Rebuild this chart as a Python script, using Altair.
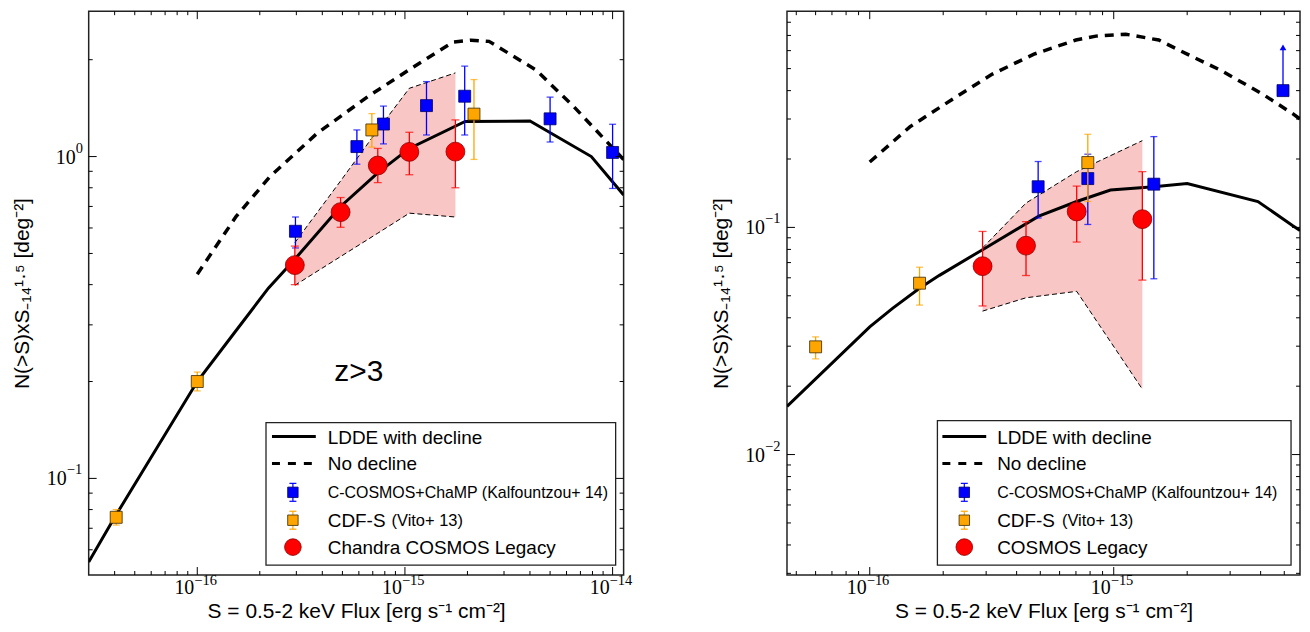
import altair as alt
import pandas as pd

# ------------------------------------------------------------------
# LEFT PANEL  (z>3, Chandra COSMOS Legacy)
# ------------------------------------------------------------------
L_ldde_S = [3.0e-17, 4.0e-17, 1.0e-16, 1.5e-16, 2.2e-16, 2.95e-16, 4.9e-16, 7.4e-16,
            1.05e-15, 1.95e-15, 4.0e-15, 7.9e-15, 1.13e-14]
L_ldde_N = [0.055, 0.0757, 0.200, 0.282, 0.39, 0.48, 0.70, 0.89,
            1.06, 1.285, 1.29, 1.00, 0.76]

L_nodecl_S = [1.0e-16, 1.54e-16, 2.24e-16, 3.76e-16, 6.61e-16, 1.1e-15, 1.71e-15,
              2.08e-15, 2.54e-15, 4.27e-15, 6.5e-15, 1.13e-14]
L_nodecl_N = [0.431, 0.652, 0.867, 1.178, 1.534, 1.899, 2.27,
              2.30, 2.28, 1.86, 1.43, 0.979]

L_red_S = [2.95e-16, 4.9e-16, 7.4e-16, 1.05e-15, 1.75e-15]
L_red_N = [0.46, 0.672, 0.938, 1.034, 1.036]
L_red_lo = [0.40, 0.603, 0.83, 0.878, 0.80]
L_red_hi = [0.527, 0.746, 1.06, 1.19, 1.30]

L_blue_S = [2.97e-16, 5.87e-16, 7.88e-16, 1.27e-15, 1.94e-15, 5.0e-15, 1.0e-14]
L_blue_N = [0.586, 1.074, 1.262, 1.44, 1.54, 1.31, 1.03]
L_blue_lo = [0.52, 0.947, 1.095, 1.167, 1.167, 1.11, 0.796]
L_blue_hi = [0.649, 1.21, 1.435, 1.71, 1.91, 1.53, 1.26]

L_orange_S = [4.07e-17, 1.0e-16, 6.93e-16, 2.15e-15]
L_orange_N = [0.0757, 0.200, 1.21, 1.355]
L_orange_lo = [0.0716, 0.187, 1.07, 0.98]
L_orange_hi = [0.080, 0.214, 1.36, 1.735]

L_band_S = [2.95e-16, 4.9e-16, 7.4e-16, 1.05e-15, 1.75e-15]
L_band_lo = [0.398, 0.489, 0.578, 0.667, 0.649]
L_band_hi = [0.54, 0.84, 1.21, 1.63, 1.82]

L_note_S = [6.0e-16]
L_note_N = [0.214]
L_note_text = ["z>3"]

# ------------------------------------------------------------------
# RIGHT PANEL  (COSMOS Legacy)
# ------------------------------------------------------------------
R_ldde_S = [4.58e-17, 1.0e-16, 1.24e-16, 1.6e-16, 1.93e-16, 2.9e-16, 4.93e-16, 7.05e-16,
            9.7e-16, 1.46e-15, 2.0e-15, 3.9e-15, 5.4e-15, 5.8e-15]
R_ldde_N = [0.0163, 0.0365, 0.044, 0.054, 0.0615, 0.0798, 0.112, 0.130,
            0.146, 0.151, 0.156, 0.130, 0.102, 0.097]

R_nodecl_S = [1.0e-16, 1.46e-16, 2.16e-16, 3.18e-16, 4.71e-16, 7.0e-16, 8.45e-16,
              1.12e-15, 1.53e-15, 2.0e-15, 2.73e-15, 4.06e-15, 5.43e-15, 5.8e-15]
R_nodecl_N = [0.194, 0.277, 0.364, 0.473, 0.579, 0.668, 0.695,
              0.709, 0.668, 0.579, 0.493, 0.387, 0.316, 0.30]

R_red_S = [2.9e-16, 4.37e-16, 7.05e-16, 1.31e-15]
R_red_N = [0.0675, 0.0831, 0.1175, 0.1087]
R_red_lo = [0.0451, 0.0614, 0.0862, 0.0586]
R_red_hi = [0.096, 0.106, 0.152, 0.176]

R_blue_S = [4.9e-16, 7.83e-16, 1.46e-15]
R_blue_N = [0.151, 0.164, 0.155]
R_blue_lo = [0.110, 0.103, 0.0594]
R_blue_hi = [0.195, 0.21, 0.251]

R_blue_lim_S = [4.94e-15]
R_blue_lim_N = [0.40]
R_blue_lim_top = [0.62]

R_orange_S = [6.0e-17, 1.6e-16, 7.83e-16]
R_orange_N = [0.0298, 0.0568, 0.193]
R_orange_lo = [0.0264, 0.0455, 0.13]
R_orange_hi = [0.033, 0.0668, 0.257]

R_band_S = [2.9e-16, 4.37e-16, 7.05e-16, 1.31e-15]
R_band_lo = [0.0428, 0.049, 0.0523, 0.0194]
R_band_hi = [0.0812, 0.128, 0.176, 0.241]

# ------------------------------------------------------------------
# Axes: domains, tick values and tick labels (base "10" + exponent)
# ------------------------------------------------------------------
L_xdomain = [3.0e-17, 1.13e-14]
L_ydomain = [0.0501, 2.83]
R_xdomain = [4.58e-17, 5.8e-15]
R_ydomain = [0.00295, 0.895]

L_xticks = [1e-16, 1e-15, 1e-14]
L_xexp = ["−16", "−15", "−14"]
L_xminor = [4e-17, 5e-17, 6e-17, 7e-17, 8e-17, 9e-17,
            2e-16, 3e-16, 4e-16, 5e-16, 6e-16, 7e-16, 8e-16, 9e-16,
            2e-15, 3e-15, 4e-15, 5e-15, 6e-15, 7e-15, 8e-15, 9e-15]
L_yticks = [0.1, 1.0]
L_yexp = ["−1", "0"]
L_yminor = [0.06, 0.07, 0.08, 0.09, 0.2, 0.3, 0.4, 0.5, 0.6, 0.7, 0.8, 0.9, 2.0]

R_xticks = [1e-16, 1e-15]
R_xexp = ["−16", "−15"]
R_xminor = [5e-17, 6e-17, 7e-17, 8e-17, 9e-17,
            2e-16, 3e-16, 4e-16, 5e-16, 6e-16, 7e-16, 8e-16, 9e-16,
            2e-15, 3e-15, 4e-15, 5e-15]
R_yticks = [0.01, 0.1]
R_yexp = ["−2", "−1"]
R_yminor = [0.003, 0.004, 0.005, 0.006, 0.007, 0.008, 0.009,
            0.02, 0.03, 0.04, 0.05, 0.06, 0.07, 0.08, 0.09,
            0.2, 0.3, 0.4, 0.5, 0.6, 0.7, 0.8]

TICK_BASE = "10"
X_TITLE = "S = 0.5-2 keV Flux [erg s⁻¹ cm⁻²]"
Y_TITLE = "N(>S)xS₋₁₄¹·⁵ [deg⁻²]"

LEG_LDDE = "LDDE with decline"
LEG_NODECL = "No decline"
LEG_BLUE = "C-COSMOS+ChaMP (Kalfountzou+ 14)"
LEG_ORANGE = "CDF-S"
LEG_ORANGE_REF = "(Vito+ 13)"
L_LEG_RED = "Chandra COSMOS Legacy"
R_LEG_RED = "COSMOS Legacy"

# ------------------------------------------------------------------
SANS = "Liberation Sans"
SERIF = "Liberation Serif"
BLUE = "#0000ff"
ORANGE = "#ffa500"
RED = "#ff0000"
PINK = "#f9c6c6"
ONE = pd.DataFrame({"d": [0]})


def panel(W, H, xdom, ydom, xticks, xexp, xminor, yticks, yexp, yminor,
          ldde, nodecl, band, red, blue, orange, leg, red_label, blue_lim=None, note=None):
    xs = alt.Scale(type="log", domain=xdom, nice=False)
    ys = alt.Scale(type="log", domain=ydom, nice=False)

    xaxis = alt.Axis(values=xticks, labels=False, title=X_TITLE,
                     grid=False, ticks=False, domain=False, labelPadding=0,
                     titleFont=SANS, titleFontSize=21, titleFontWeight="normal",
                     titleColor="black", titlePadding=26)
    yaxis = alt.Axis(values=yticks, labels=False, title=Y_TITLE,
                     grid=False, ticks=False, domain=False, labelPadding=0,
                     titleFont=SANS, titleFontSize=21, titleFontWeight="normal",
                     titleColor="black", titlePadding=56)

    def X(field="S"):
        return alt.X(f"{field}:Q", scale=xs, axis=xaxis)

    def Y(field="N"):
        return alt.Y(f"{field}:Q", scale=ys, axis=yaxis)

    layers = []
    bdf = pd.DataFrame({"S": band[0], "lo": band[1], "hi": band[2]})
    layers.append(alt.Chart(bdf).mark_area(color=PINK, opacity=1).encode(
        x=X(), y=Y("lo"), y2="hi"))
    for f in ["hi", "lo"]:
        layers.append(alt.Chart(bdf).mark_line(color="black", strokeWidth=1,
                                               strokeDash=[5, 3]).encode(x=X(), y=Y(f)))

    ldf = pd.DataFrame({"S": ldde[0], "N": ldde[1]})
    layers.append(alt.Chart(ldf).mark_line(color="black", strokeWidth=3, clip=True).encode(
        x=X(), y=Y()))
    ndf = pd.DataFrame({"S": nodecl[0], "N": nodecl[1]})
    layers.append(alt.Chart(ndf).mark_line(color="black", strokeWidth=3.5, strokeDash=[9, 7],
                                           clip=True).encode(x=X(), y=Y()))

    def errs(data, color, shape, size, fill, stroke, cap):
        d = pd.DataFrame({"S": data[0], "N": data[1], "lo": data[2], "hi": data[3]})
        out = [alt.Chart(d).mark_rule(color=color, strokeWidth=1.3).encode(x=X(), y=Y("lo"), y2="hi")]
        for f in ["lo", "hi"]:
            out.append(alt.Chart(d).mark_tick(color=color, orient="horizontal", size=cap,
                                              thickness=1.3).encode(x=X(), y=Y(f)))
        out.append(alt.Chart(d).mark_point(shape=shape, filled=True, size=size, fill=fill,
                                           stroke=stroke, strokeWidth=0.8, opacity=1).encode(
            x=X(), y=Y()))
        return out

    layers += errs(blue, BLUE, "square", 144, BLUE, "#00006a", 7)
    if blue_lim is not None:
        bl = pd.DataFrame({"S": blue_lim[0], "N": blue_lim[1], "top": blue_lim[2]})
        layers.append(alt.Chart(bl).mark_rule(color=BLUE, strokeWidth=1.3).encode(
            x=X(), y=Y("N"), y2="top"))
        layers.append(alt.Chart(bl).mark_point(shape="triangle-up", filled=True, size=45,
                                               color=BLUE, opacity=1).encode(x=X(), y=Y("top")))
        layers.append(alt.Chart(bl).mark_point(shape="square", filled=True, size=144, fill=BLUE,
                                               stroke="#00006a", strokeWidth=0.8, opacity=1).encode(
            x=X(), y=Y()))
    layers += errs(orange, ORANGE, "square", 144, ORANGE, "#3a2a00", 7)
    layers += errs(red, RED, "circle", 360, RED, "#8b0000", 8)

    # inside ticks on all four sides
    for vals, L in [(xticks, 8), (xminor, 4)]:
        t = pd.DataFrame({"S": vals})
        r = alt.Chart(t).mark_rule(color="black", strokeWidth=1)
        layers.append(r.encode(x=X(), y=alt.value(H), y2=alt.value(H - L)))
        layers.append(r.encode(x=X(), y=alt.value(0), y2=alt.value(L)))
    for vals, L in [(yticks, 8), (yminor, 4)]:
        t = pd.DataFrame({"N": vals})
        r = alt.Chart(t).mark_rule(color="black", strokeWidth=1)
        layers.append(r.encode(y=Y(), x=alt.value(0), x2=alt.value(L)))
        layers.append(r.encode(y=Y(), x=alt.value(W), x2=alt.value(W - L)))

    # tick labels: "10" with a raised exponent
    xl = pd.DataFrame({"S": xticks, "b": [TICK_BASE] * len(xticks), "e": xexp})
    layers.append(alt.Chart(xl).mark_text(font=SERIF, fontSize=20, align="right",
                                          baseline="alphabetic", dx=-3, color="black").encode(
        x=X(), y=alt.value(H + 19), text="b:N"))
    layers.append(alt.Chart(xl).mark_text(font=SERIF, fontSize=14.5, align="left",
                                          baseline="alphabetic", dx=-3, color="black").encode(
        x=X(), y=alt.value(H + 10), text="e:N"))
    for v, e in zip(yticks, yexp):
        yl = pd.DataFrame({"N": [v], "b": [TICK_BASE], "e": [e]})
        ew = 8 if len(e) == 1 else 17
        layers.append(alt.Chart(yl).mark_text(font=SERIF, fontSize=20, align="right",
                                              baseline="middle", dy=1, color="black").encode(
            x=alt.value(-5 - ew), y=Y(), text="b:N"))
        layers.append(alt.Chart(yl).mark_text(font=SERIF, fontSize=14.5, align="left",
                                              baseline="middle", dy=-8, color="black").encode(
            x=alt.value(-5 - ew), y=Y(), text="e:N"))

    if note is not None:
        nd = pd.DataFrame({"S": note[0], "N": note[1], "t": note[2]})
        layers.append(alt.Chart(nd).mark_text(font=SANS, fontSize=30, align="center",
                                              baseline="middle", color="black").encode(
            x=X(), y=Y(), text="t:N"))

    # legend (drawn inside the plot, lower right)
    bx1, bx2, by1, by2 = leg["box"]
    rows = leg["rows"]
    lx1, lx2 = leg["line"]
    mx = leg["mark"]
    tx = leg["text"]
    one = alt.Chart(ONE)
    layers.append(one.mark_rect(fill="white", stroke="#222222", strokeWidth=1.3).encode(
        x=alt.value(bx1), x2=alt.value(bx2), y=alt.value(by1), y2=alt.value(by2)))
    layers.append(one.mark_rule(color="black", strokeWidth=3).encode(
        x=alt.value(lx1), x2=alt.value(lx2), y=alt.value(rows[0])))
    layers.append(one.mark_rule(color="black", strokeWidth=3, strokeDash=[8, 8]).encode(
        x=alt.value(lx1), x2=alt.value(lx2), y=alt.value(rows[1])))
    for ry, col, stroke in [(rows[2], BLUE, "#00006a"), (rows[3], ORANGE, "#3a2a00")]:
        layers.append(one.mark_rule(color=col, strokeWidth=1.2).encode(
            x=alt.value(mx), y=alt.value(ry - 9), y2=alt.value(ry + 9)))
        for cy in (ry - 9, ry + 9):
            layers.append(one.mark_rule(color=col, strokeWidth=1.2).encode(
                x=alt.value(mx - 3.5), x2=alt.value(mx + 3.5), y=alt.value(cy)))
        layers.append(one.mark_point(shape="square", filled=True, size=110, fill=col,
                                     stroke=stroke, strokeWidth=0.8, opacity=1).encode(
            x=alt.value(mx), y=alt.value(ry)))
    layers.append(one.mark_point(shape="circle", filled=True, size=280, fill=RED,
                                 stroke="#8b0000", strokeWidth=0.8, opacity=1).encode(
        x=alt.value(mx), y=alt.value(rows[4])))
    texts = [(rows[0], LEG_LDDE, 19, tx), (rows[1], LEG_NODECL, 19, tx),
             (rows[2], LEG_BLUE, 16, tx), (rows[3], LEG_ORANGE, 19, tx),
             (rows[3], LEG_ORANGE_REF, 16.5, leg["ref"]), (rows[4], red_label, 19, tx)]
    for ry, s, fs, x0 in texts:
        layers.append(one.mark_text(font=SANS, fontSize=fs, align="left", baseline="middle",
                                    color="black").encode(
            x=alt.value(x0), y=alt.value(ry + 1), text=alt.value(s)))

    return alt.layer(*layers).properties(width=W, height=H)


H = 566
left = panel(537, H, L_xdomain, L_ydomain, L_xticks, L_xexp, L_xminor,
             L_yticks, L_yexp, L_yminor,
             (L_ldde_S, L_ldde_N), (L_nodecl_S, L_nodecl_N),
             (L_band_S, L_band_lo, L_band_hi),
             (L_red_S, L_red_N, L_red_lo, L_red_hi),
             (L_blue_S, L_blue_N, L_blue_lo, L_blue_hi),
             (L_orange_S, L_orange_N, L_orange_lo, L_orange_hi),
             {"box": (178, 529, 413, 556), "rows": [427, 454, 483, 511, 538],
              "line": (184, 228), "mark": 205, "text": 240, "ref": 304},
             L_LEG_RED, note=(L_note_S, L_note_N, L_note_text))

right = panel(515, H, R_xdomain, R_ydomain, R_xticks, R_xexp, R_xminor,
              R_yticks, R_yexp, R_yminor,
              (R_ldde_S, R_ldde_N), (R_nodecl_S, R_nodecl_N),
              (R_band_S, R_band_lo, R_band_hi),
              (R_red_S, R_red_N, R_red_lo, R_red_hi),
              (R_blue_S, R_blue_N, R_blue_lo, R_blue_hi),
              (R_orange_S, R_orange_N, R_orange_lo, R_orange_hi),
              {"box": (151, 506, 411, 556), "rows": [427, 454, 483, 511, 538],
               "line": (156, 200), "mark": 178, "text": 211, "ref": 276},
              R_LEG_RED, blue_lim=(R_blue_lim_S, R_blue_lim_N, R_blue_lim_top))

chart = alt.hconcat(left, right, spacing=76).properties(
    padding={"left": 3, "top": 0, "right": 0, "bottom": 0},
    background="white",
).configure_view(stroke="#222222", strokeWidth=1.5)

chart.save("out.html", embed_options={"renderer": "svg", "actions": False})
